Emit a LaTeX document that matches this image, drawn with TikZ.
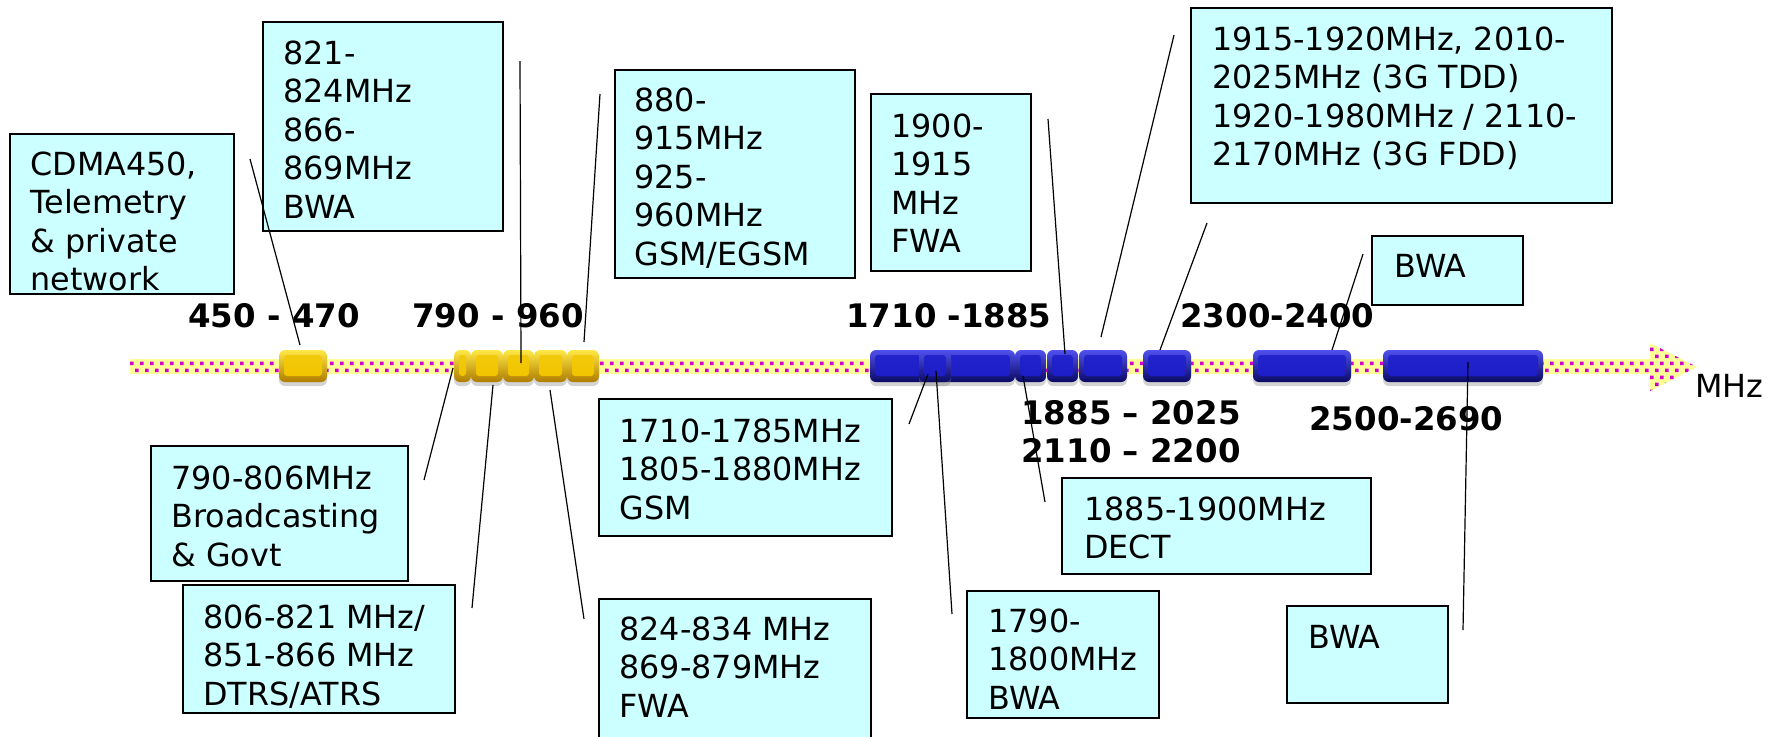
\documentclass[tikz,border=0pt]{standalone}
\usepackage{fontspec}
\setmainfont{DejaVu Sans}
\usetikzlibrary{shadows}

\definecolor{kastenfarbe}{HTML}{CCFFFF}
\definecolor{bandgelb}{HTML}{FFFF99}
\definecolor{bandpunkt}{HTML}{D000D0}
\definecolor{gelbhell}{RGB}{255,232,70}
\definecolor{gelbdunkel}{RGB}{176,124,0}
\definecolor{gelbmitte}{RGB}{240,196,0}
\definecolor{blauhell}{RGB}{80,80,238}
\definecolor{blaudunkel}{RGB}{10,10,100}
\definecolor{blaumitte}{RGB}{30,30,200}

% Baustein auf dem Band: #1 = linker Rand, #2 = rechter Rand
\newcommand\gelbblock[2]{%
  \path[gkante] (#1,350) rectangle (#2,382);
  \path[gflaeche] (#1+5,355) rectangle (#2-5,376);}
\newcommand\blaublock[2]{%
  \path[bkante] (#1,350) rectangle (#2,382);
  \path[bflaeche] (#1+5,355) rectangle (#2-5,376);}

\begin{document}
\begin{tikzpicture}[
      x=0.5pt, y=-0.5pt,
      kasten/.style={draw=black, line width=0.9pt, fill=kastenfarbe},
      linie/.style={black, line width=0.6pt},
      beschriftung/.style={font=\fontsize{15.9}{19.25}\selectfont, align=left, anchor=north west, inner sep=0pt},
      bereich/.style={font=\fontsize{16.2}{19.25}\selectfont\bfseries, align=left, anchor=north west, inner sep=0pt},
      gkante/.style={rounded corners=3pt, top color=gelbhell, bottom color=gelbdunkel,
        drop shadow={shadow xshift=0pt, shadow yshift=-2pt, opacity=0.35}},
      gflaeche/.style={rounded corners=1.5pt, top color=gelbmitte!85!gelbhell, bottom color=gelbmitte},
      bkante/.style={rounded corners=3pt, top color=blauhell, bottom color=blaudunkel,
        drop shadow={shadow xshift=0pt, shadow yshift=-2pt, opacity=0.35}},
      bflaeche/.style={rounded corners=1.5pt, top color=blaumitte!90!blauhell, bottom color=blaumitte}
    ]
    \useasboundingbox (0,0) rectangle (1777,736);

    % ---------- Frequenzband (Pfeil mit Punktmuster) ----------
    \begin{scope}
      \clip (130,359) -- (1650,359) -- (1650,343) -- (1697,367) -- (1650,391)
        -- (1650,374) -- (130,374) -- cycle;
      \fill[bandgelb] (120,340) rectangle (1700,395);
      \fill[bandpunkt] \foreach \i in {0,...,157}{
        \foreach \j in {0,...,6}{
          ({130+10*\i+5*mod(\j,2)},{347.5+7*\j}) rectangle ++(3.5,3.5)
        }};
    \end{scope}
    \node[beschriftung] (mhz) at (1695,374) {MHz};

    % ---------- Bausteine ----------
    \gelbblock{279}{327}
    \gelbblock{454}{471}
    \foreach \a/\b in {471/503, 503/534, 534/567, 567/599}{
      \gelbblock{\a}{\b}
    }
    \blaublock{870}{1015}
    \blaublock{919}{951}
    \foreach \a/\b in {1015/1046, 1047/1078, 1079/1127, 1143/1191, 1253/1351, 1383/1543}{
      \blaublock{\a}{\b}
    }

    % ---------- Bereichsmarken ----------
    \node[bereich] (m450)  at (188,303)  {450 - 470};
    \node[bereich] (m790)  at (412,303)  {790 - 960};
    \node[bereich] (m1710) at (846,303)  {1710 -1885};
    \node[bereich] (m2300) at (1180,303) {2300-2400};
    \node[bereich] (m1885) at (1021,400) {1885 – 2025\\2110 – 2200};
    \node[bereich] (m2500) at (1309,406) {2500-2690};

    % ---------- Kaesten oben ----------
    \draw[kasten] (10,134) rectangle (234,294);
    \node[beschriftung] (cdma) at (30,151) {CDMA450,\\Telemetry\\\& private\\network};
    \draw[kasten] (263,22) rectangle (503,231);
    \node[beschriftung] (bwa821) at (283,40) {821-\\824MHz\\866-\\869MHz\\BWA};
    \draw[kasten] (615,70) rectangle (855,278);
    \node[beschriftung] (gsm880) at (634,87) {880-\\915MHz\\925-\\960MHz\\GSM/EGSM};
    \draw[kasten] (871,94) rectangle (1031,271);
    \node[beschriftung] (fwa1900) at (891,113) {1900-\\1915\\MHz\\FWA};
    \draw[kasten] (1191,8) rectangle (1612,203);
    \node[beschriftung] (g3) at (1212,26)
      {1915-1920MHz, 2010-\\2025MHz (3G TDD)\\1920-1980MHz / 2110-\\2170MHz (3G FDD)};
    \draw[kasten] (1372,236) rectangle (1523,305);
    \node[beschriftung] (bwa2300) at (1394,254) {BWA};

    % ---------- Kaesten unten ----------
    \draw[kasten] (151,446) rectangle (408,581);
    \node[beschriftung] (rf790) at (171,465) {790-806MHz\\Broadcasting\\\& Govt};
    \draw[kasten] (183,585) rectangle (455,713);
    \node[beschriftung] (dtrs) at (203,604) {806-821 MHz/\\851-866 MHz\\DTRS/ATRS};
    \draw[kasten] (599,399) rectangle (892,536);
    \node[beschriftung] (gsm1710) at (619,418) {1710-1785MHz\\1805-1880MHz\\GSM};
    \draw[kasten] (599,599) rectangle (871,760);
    \node[beschriftung] (fwa824) at (619,616) {824-834 MHz\\869-879MHz\\FWA};
    \draw[kasten] (1062,478) rectangle (1371,574);
    \node[beschriftung] (dect) at (1084,496) {1885-1900MHz\\DECT};
    \draw[kasten] (967,591) rectangle (1159,718);
    \node[beschriftung] (bwa1790) at (988,608) {1790-\\1800MHz\\BWA};
    \draw[kasten] (1287,606) rectangle (1448,703);
    \node[beschriftung] (bwa2500) at (1308,625) {BWA};

    % ---------- Zuordnungslinien ----------
    \coordinate (cdma-a)    at (250,159);  \coordinate (cdma-b)    at (300,345);
    \coordinate (bwa821-a)  at (520,61);   \coordinate (bwa821-b)  at (521,363);
    \coordinate (gsm880-a)  at (600,94);   \coordinate (gsm880-b)  at (584,342);
    \coordinate (rf790-a)   at (424,480);  \coordinate (rf790-b)   at (453,368);
    \coordinate (dtrs-a)    at (472,608);  \coordinate (dtrs-b)    at (493,385);
    \coordinate (fwa824-a)  at (584,619);  \coordinate (fwa824-b)  at (550,390);
    \coordinate (gsm1710-a) at (909,424);  \coordinate (gsm1710-b) at (928,374);
    \coordinate (bwa1790-a) at (952,614);  \coordinate (bwa1790-b) at (936,371);
    \coordinate (fwa1900-a) at (1048,119); \coordinate (fwa1900-b) at (1065,354);
    \coordinate (g3-a)      at (1174,35);  \coordinate (g3-b)      at (1101,337);
    \coordinate (g3-c)      at (1207,223); \coordinate (g3-d)      at (1160,350);
    \coordinate (bwa2300-a) at (1363,254); \coordinate (bwa2300-b) at (1332,350);
    \coordinate (dect-a)    at (1045,502); \coordinate (dect-b)    at (1023,376);
    \coordinate (bwa2500-a) at (1463,630); \coordinate (bwa2500-b) at (1468,362);
    \foreach \n in {cdma, bwa821, gsm880, rf790, dtrs, fwa824, gsm1710, bwa1790,
                    fwa1900, g3, bwa2300, dect, bwa2500}{
      \draw[linie] (\n-a) -- (\n-b);
    }
    \draw[linie] (g3-c) -- (g3-d);
  \end{tikzpicture}
\end{document}
